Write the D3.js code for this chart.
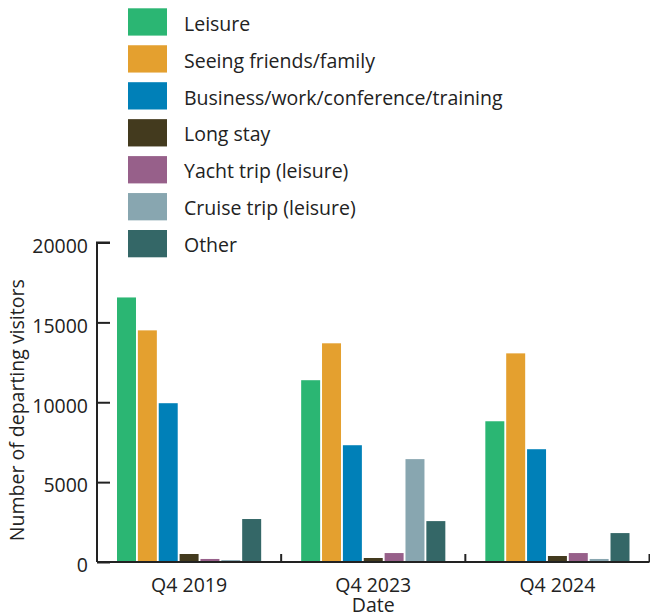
<!DOCTYPE html>
<html>
<head>
<meta charset="utf-8">
<script src="https://cdn.jsdelivr.net/npm/d3@7"></script>
<style>
  html, body { margin: 0; padding: 0; background: #fff; }
  svg { display: block; }
  text { font-family: "Open Sans", "Noto Sans", sans-serif; fill: #222; }
</style>
</head>
<body>
<svg id="chart" width="650" height="613"></svg>
<script>
const categories = ["Q4 2019", "Q4 2023", "Q4 2024"];
const seriesNames = ["Leisure", "Seeing friends/family", "Business/work/conference/training",
  "Long stay", "Yacht trip (leisure)", "Cruise trip (leisure)", "Other"];
const seriesColors = ["#2bb673", "#e4a02f", "#0080b8", "#433a1e", "#97608a", "#88a6b0", "#346767"];
const leisure   = [16560, 11380, 8810];
const friends   = [14500, 13690, 13060];
const business  = [9940, 7310, 7060];
const longStay  = [500, 250, 375];
const yacht     = [190, 560, 560];
const cruise    = [120, 6440, 190];
const other     = [2690, 2560, 1810];
const seriesValues = [leisure, friends, business, longStay, yacht, cruise, other];
const yTicks = [0, 5000, 10000, 15000, 20000];
const yLabel = "Number of departing visitors";
const xLabel = "Date";

const FS = 19.5;
const svg = d3.select("#chart");
const pLeft = 97, pRight = 649.5, pTop = 242.5, pBottom = 562;

const x0 = d3.scaleBand().domain(categories).range([pLeft, pRight]).padding(0);
const x1 = d3.scaleBand().domain(seriesNames).range([20, x0.bandwidth() - 20]).paddingInner(0.09);
const y = d3.scaleLinear().domain([0, 20000]).range([pBottom, pTop]);

// bars
const g = svg.append("g");
categories.forEach((c, ci) => {
  seriesNames.forEach((s, si) => {
    const v = seriesValues[si][ci];
    g.append("rect")
      .attr("x", x0(c) + x1(s))
      .attr("y", y(v))
      .attr("width", x1.bandwidth())
      .attr("height", y(0) - y(v) + 0.5)
      .attr("fill", seriesColors[si]);
  });
});

// y axis
const yAxis = svg.append("g").attr("transform", `translate(${pLeft},0)`)
  .call(d3.axisLeft(y).tickValues(yTicks).tickSize(-13).tickPadding(9).tickFormat(d3.format("d")));
yAxis.select(".domain").attr("stroke", "#222").attr("stroke-width", 2).attr("d", `M13,${pTop}H0V${pBottom}`);
yAxis.selectAll(".tick line").attr("stroke", "#222").attr("stroke-width", 2);
yAxis.selectAll(".tick text").attr("font-size", FS).attr("font-family", "Open Sans").attr("fill", "#222")
  .attr("dy", "0.5em");
// x axis
const boundaries = categories.map(c => x0(c)).concat([x0(categories[categories.length - 1]) + x0.bandwidth()]);
const xAxis = svg.append("g").attr("transform", `translate(0,${pBottom})`)
  .call(d3.axisBottom(x0).tickSize(0).tickPadding(16));
xAxis.select(".domain").attr("stroke", "#222").attr("stroke-width", 2).attr("d", `M${pLeft},0H${pRight}`);
xAxis.selectAll(".tick text").attr("font-size", FS).attr("font-family", "Open Sans").attr("fill", "#222");
xAxis.selectAll("line.bound").data(boundaries.slice(1)).enter().append("line")
  .attr("class", "bound").attr("x1", d => d).attr("x2", d => d).attr("y1", 0).attr("y2", -8)
  .attr("stroke", "#222").attr("stroke-width", 2);

// axis labels
svg.append("text").attr("x", (pLeft + pRight) / 2).attr("y", 612)
  .attr("text-anchor", "middle").attr("font-size", FS).text(xLabel);
svg.append("text").attr("transform", `translate(24,${(pTop + pBottom) / 2 + 8}) rotate(-90)`)
  .attr("text-anchor", "middle").attr("font-size", FS).text(yLabel);

// legend
const legend = svg.append("g");
seriesNames.forEach((s, i) => {
  const ly = 8.3 + i * 36.95;
  legend.append("rect").attr("x", 128).attr("y", ly).attr("width", 39).attr("height", 27.3)
    .attr("fill", seriesColors[i]);
  legend.append("text").attr("x", 184).attr("y", ly + 22.3)
    .attr("font-size", FS).text(s);
});
</script>
</body>
</html>
